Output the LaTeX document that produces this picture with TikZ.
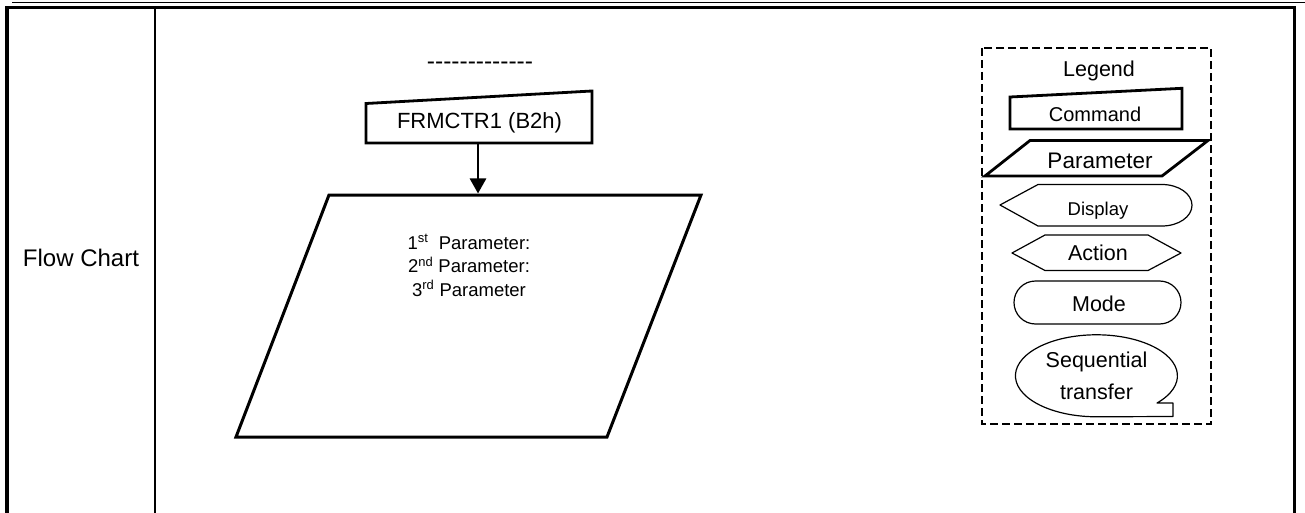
\documentclass[tikz,border=0pt]{standalone}
\usepackage{fontspec}
\setmainfont{Liberation Sans}[Ligatures=TeXOff]
\usetikzlibrary{arrows.meta}

\begin{document}
\begin{tikzpicture}[
  x=1pt, y=1pt,
  frame/.style={line width=3.6pt, line join=miter},
  boldshape/.style={draw, line width=2.8pt, line join=miter},
  thinshape/.style={draw, line width=1.2pt, line join=round},
  lbl/.style={inner sep=0pt, anchor=base, font=\fontsize{21.5}{21.5}\selectfont},
  arr/.style={-{Triangle[width=16pt,length=15pt]}, line width=2.7pt}
]
\useasboundingbox (0,0) rectangle (1305,-513);

% table frame
\draw[line width=1.1pt] (12,-2.3) -- (1305,-2.3);
\draw[frame] (7,-513) -- (7,-7.7) -- (1294.5,-7.7) -- (1294.5,-513);
\draw[line width=2pt] (155,-7.7) -- (155,-513);
\node[lbl, font=\fontsize{24}{24}\selectfont] (flow) at (81,-266) {Flow Chart};

% flow chart
\node[lbl, font=\fontsize{24.5}{24.5}\selectfont] (dashes) at (480,-70) {-------------};
\draw[boldshape] (366,-103.5) -- (592,-91) -- (592,-143) -- (366,-143) -- cycle;
\node[lbl, font=\fontsize{22}{22}\selectfont] (cmd) at (479.5,-128.3) {FRMCTR1 (B2h)};
\draw[boldshape, line width=3pt] (329,-195) -- (701,-195) -- (607,-437) -- (236,-437) -- cycle;
\node[inner sep=0pt, align=center, font=\fontsize{18.5}{23.5}\selectfont] (plist) at (469,-265.5)
  {1\textsuperscript{st}\ \ Parameter:\\2\textsuperscript{nd} Parameter:\\3\textsuperscript{rd} Parameter};
\coordinate (cmdS) at (478,-143);
\coordinate (parN) at (478,-193.5);
\draw[arr] (cmdS) -- (parN);

% legend
\draw[line width=1.1pt, dash pattern=on 8pt off 4pt] (982,-48) rectangle (1211,-424);
\node[lbl] (leg) at (1099,-76.7) {Legend};
\draw[boldshape] (1010,-97) -- (1182,-88.3) -- (1182,-129) -- (1010,-129) -- cycle;
\node[lbl, font=\fontsize{20}{20}\selectfont] (legcmd) at (1095,-121.7) {Command};
\draw[boldshape] (1030,-140.5) -- (1208,-140.5) -- (1162,-176) -- (985,-176) -- cycle;
\node[lbl, font=\fontsize{22.5}{22.5}\selectfont] (legpar) at (1100,-168) {Parameter};
\draw[thinshape] (1000,-205) -- (1038,-184.5) -- (1162,-184.5)
  arc[start angle=90, end angle=-90, x radius=30, y radius=20.75] -- (1038,-226) -- cycle;
\node[lbl, font=\fontsize{18.5}{18.5}\selectfont] (legdisp) at (1098,-215) {Display};
\draw[thinshape] (1012,-253) -- (1045,-235) -- (1148,-235) -- (1181,-253) -- (1148,-270.5) -- (1045,-270.5) -- cycle;
\node[lbl] (legact) at (1098,-260) {Action};
\draw[thinshape, rounded corners=21.5pt] (1014,-281) rectangle (1181,-324);
\node[lbl] (legmode) at (1099,-311.7) {Mode};
\draw[thinshape] (1157,-403) arc[start angle=-41.6, end angle=270, x radius=81, y radius=41]
  -- (1173,-416.5) -- (1173,-403) -- cycle;
\node[inner sep=0pt, align=center, font=\fontsize{21.5}{32}\selectfont] (legseq) at (1096.5,-376) {Sequential\\transfer};
\end{tikzpicture}
\end{document}
